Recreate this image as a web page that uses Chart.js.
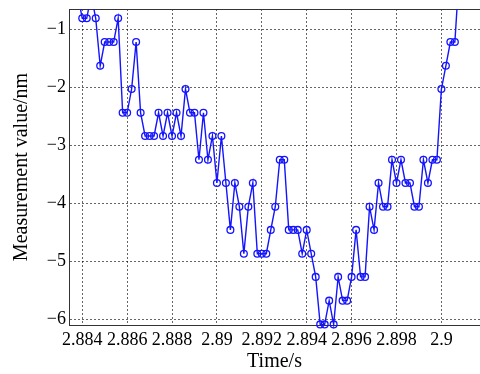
<!DOCTYPE html>
<html>
<head>
<meta charset="utf-8">
<script src="https://cdn.jsdelivr.net/npm/chart.js@4/dist/chart.umd.min.js"></script>
<style>
    html, body { margin: 0; padding: 0; background: #fff; overflow: hidden; }
    #wrap { width: 480px; height: 374px; }
</style>
</head>
<body>
<div id="wrap"><canvas id="myChart" width="480" height="374"></canvas></div>
<script>
// Sample times (s)
let times = [
    2.8836, 2.8838, 2.8840, 2.8842, 2.8844, 2.8846, 2.8848, 2.8850, 2.8852, 2.8854,
    2.8856, 2.8858, 2.8860, 2.8862, 2.8864, 2.8866, 2.8868, 2.8870, 2.8872, 2.8874,
    2.8876, 2.8878, 2.8880, 2.8882, 2.8884, 2.8886, 2.8888, 2.8890, 2.8892, 2.8894,
    2.8896, 2.8898, 2.8900, 2.8902, 2.8904, 2.8906, 2.8908, 2.8910, 2.8912, 2.8914,
    2.8916, 2.8918, 2.8920, 2.8922, 2.8924, 2.8926, 2.8928, 2.8930, 2.8932, 2.8934,
    2.8936, 2.8938, 2.8940, 2.8942, 2.8944, 2.8946, 2.8948, 2.8950, 2.8952, 2.8954,
    2.8956, 2.8958, 2.8960, 2.8962, 2.8964, 2.8966, 2.8968, 2.8970, 2.8972, 2.8974,
    2.8976, 2.8978, 2.8980, 2.8982, 2.8984, 2.8986, 2.8988, 2.8990, 2.8992, 2.8994,
    2.8996, 2.8998, 2.9000, 2.9002, 2.9004, 2.9006, 2.9008
];

// Measured values (nm)
let values = [
    -0.41, -0.41, -0.81, -0.81, -0.41, -0.81, -1.63, -1.22, -1.22, -1.22,
    -0.81, -2.44, -2.44, -2.03, -1.22, -2.44, -2.84, -2.84, -2.84, -2.44,
    -2.84, -2.44, -2.84, -2.44, -2.84, -2.03, -2.44, -2.44, -3.25, -2.44,
    -3.25, -2.84, -3.65, -2.84, -3.65, -4.46, -3.65, -4.06, -4.87, -4.06,
    -3.65, -4.87, -4.87, -4.87, -4.46, -4.06, -3.25, -3.25, -4.46, -4.46,
    -4.46, -4.87, -4.46, -4.87, -5.27, -6.09, -6.09, -5.68, -6.09, -5.27,
    -5.68, -5.68, -5.27, -4.46, -5.27, -5.27, -4.06, -4.46, -3.65, -4.06,
    -4.06, -3.25, -3.65, -3.25, -3.65, -3.65, -4.06, -4.06, -3.25, -3.65,
    -3.25, -3.25, -2.03, -1.63, -1.22, -1.22, 0.00
];

// Tick labels
let xTicks = [2.884, 2.886, 2.888, 2.89, 2.892, 2.894, 2.896, 2.898, 2.9];
let xTickLabels = ['2.884', '2.886', '2.888', '2.89', '2.892', '2.894', '2.896', '2.898', '2.9'];
let yTicks = [-6, -5, -4, -3, -2, -1];
let yTickLabels = ['\u22126', '\u22125', '\u22124', '\u22123', '\u22122', '\u22121'];

let serif = 'Liberation Serif, Times New Roman, serif';

function createChart() {
    let ctx = document.getElementById('myChart').getContext('2d');
    let points = times.map((t, i) => ({ x: t, y: values[i] }));

    let myChart = new Chart(ctx, {
        type: 'line',
        data: {
            datasets: [{
                data: points,
                borderColor: '#1414ff',
                borderWidth: 1.4,
                pointRadius: 3.4,
                pointBorderWidth: 1.3,
                pointBorderColor: '#1414ff',
                pointBackgroundColor: 'rgba(0,0,0,0)',
                tension: 0,
                clip: { left: 0, top: 0, right: 0, bottom: 5 }
            }]
        },
        options: {
            responsive: false,
            animation: false,
            layout: { padding: 0, autoPadding: false },
            plugins: {
                legend: { display: false },
                tooltip: { enabled: false }
            },
            scales: {
                x: {
                    type: 'linear',
                    position: 'bottom',
                    min: 2.88341,
                    max: 2.90172,
                    afterBuildTicks: scale => { scale.ticks = xTicks.map(v => ({ value: v })); },
                    afterFit: scale => {
                        scale.height = 49;
                        scale.paddingLeft = 0;
                        scale.paddingRight = 0;
                    },
                    ticks: {
                        autoSkip: false,
                        maxRotation: 0,
                        padding: 4,
                        color: '#000',
                        font: { family: serif, size: 18 },
                        callback: (v, i) => xTickLabels[i]
                    },
                    grid: {
                        color: 'rgba(0,0,0,0.6)',
                        lineWidth: 1,
                        drawTicks: false
                    },
                    border: { display: true, color: '#333', width: 1, dash: [2, 2] },
                    title: {
                        display: true,
                        text: 'Time/s',
                        color: '#000',
                        padding: { top: 0, bottom: 0 },
                        font: { family: serif, size: 20 }
                    }
                },
                x2: {
                    type: 'linear',
                    position: 'top',
                    afterFit: scale => {
                        scale.height = 9;
                        scale.paddingLeft = 0;
                        scale.paddingRight = 0;
                    },
                    ticks: { display: false },
                    grid: { display: false, drawTicks: false },
                    border: { display: true, color: '#333', width: 1 }
                },
                y: {
                    type: 'linear',
                    min: -6.1,
                    max: -0.65,
                    afterBuildTicks: scale => { scale.ticks = yTicks.map(v => ({ value: v })); },
                    afterFit: scale => {
                        scale.width = 69;
                        scale.paddingTop = 0;
                        scale.paddingBottom = 0;
                    },
                    ticks: {
                        padding: 3,
                        color: '#000',
                        font: { family: serif, size: 18 },
                        callback: (v, i) => yTickLabels[i]
                    },
                    grid: {
                        color: 'rgba(0,0,0,0.6)',
                        lineWidth: 1,
                        drawTicks: false
                    },
                    border: { display: true, color: '#333', width: 1, dash: [2, 2] },
                    title: {
                        display: true,
                        text: 'Measurement value/nm',
                        color: '#000',
                        padding: { top: 10, bottom: 0 },
                        font: { family: serif, size: 20 }
                    }
                }
            }
        }
    });
}

createChart();
</script>
</body>
</html>
